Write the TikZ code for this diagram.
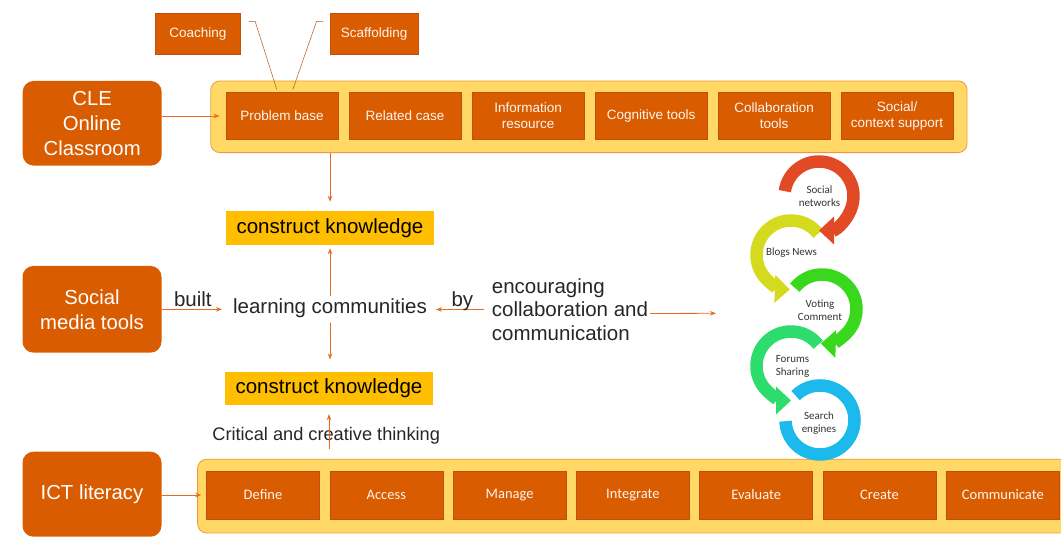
\documentclass[tikz,border=0pt]{standalone}
\usepackage{fontspec}
\setmainfont{Liberation Sans}
\newfontfamily\calibri{Carlito}
\usepackage{tikz}
\usetikzlibrary{positioning,arrows.meta,calc}
\definecolor{rust}{HTML}{DA5C00}
\definecolor{rustedge}{HTML}{BF5010}
\definecolor{sand}{HTML}{FFD865}
\definecolor{sandedge}{HTML}{EE9A3C}
\definecolor{amber}{HTML}{FFBF00}
\definecolor{wire}{HTML}{E46C1E}
\definecolor{ringred}{HTML}{E24A26}
\definecolor{ringyellow}{HTML}{D4DB1E}
\definecolor{ringgreen}{HTML}{3AD81C}
\definecolor{ringmint}{HTML}{2EDC6E}
\definecolor{ringcyan}{HTML}{1CB9EC}

\begin{document}
\begin{tikzpicture}[x=1pt, y=1pt,
  head/.style={rounded corners=11pt, fill=rust, text=white, minimum width=139pt,
               align=center, font=\fontsize{20.3}{25}\selectfont},
  tool/.style={fill=rust, draw=rustedge, line width=0.5pt, text=white!94!rust,
               minimum width=112.5pt, minimum height=47pt, inner sep=1pt,
               align=center, font=\fontsize{13.5}{16}\selectfont},
  skill/.style={tool, minimum width=113pt, minimum height=48pt,
                font=\calibri\fontsize{14.5}{16}\selectfont},
  tray/.style={rounded corners=9pt, fill=sand, draw=sandedge, line width=0.8pt},
  goal/.style={fill=amber, minimum width=208pt, inner sep=0pt,
               font=\fontsize{20.5}{22}\selectfont},
  plain/.style={inner sep=2pt, text=black!85, font=\fontsize{20.5}{23.5}\selectfont},
  wordtag/.style={plain, anchor=base, inner sep=0pt, yshift=2.5pt},
  arrow/.style={-{Stealth[length=6pt,width=4.5pt]}, wire, line width=0.8pt},
  callout/.style={draw=wire!80!black, line width=0.5pt},
  ring/.style={line width=12.5pt, -{Triangle[length=15pt,width=27pt]}},
  ringtext/.style={align=center, text=black!80, font=\calibri\fontsize{11}{13}\selectfont},
  node distance=10pt
]
\useasboundingbox (0,0) rectangle (1061,540);

% --- CLE row ---
\node[head, minimum height=84.7pt] (cle) at (92.2,416.7) {CLE\\Online\\Classroom};
\node[tray, minimum width=756.3pt, minimum height=71.7pt] (cletray) at (588.9,423.2) {};
\node[tool] (pbase) at (282.1,424) {Problem base};
\node[tool, right=of pbase] (rcase) {Related case};
\node[tool, right=of rcase] (info) {Information\\resource};
\node[tool, right=of info] (cogn) {Cognitive tools};
\node[tool, right=of cogn] (collab) {Collaboration\\tools};
\node[tool, right=of collab] (context) {Social/\\context support};
\node[tool, minimum width=85.7pt, minimum height=40.7pt] (coach) at (197.8,506.3) {Coaching};
\node[tool, minimum width=88.3pt, minimum height=40.7pt] (scaff) at (374.2,506.3) {Scaffolding};
\draw[arrow, shorten >=6pt] (cle.east |- pbase) -- (pbase.west);
\draw[callout] ($(coach.north east)+(7.6,-8.4)$) -- ++(6.7,0) -- ($(pbase.north)+(-5.3,2.7)$);
\draw[callout] ($(scaff.north west)+(-6.7,-8.4)$) -- ++(-6.6,0) -- ($(pbase.north)+(10.7,2.7)$);

% --- learning communities ---
\node[goal, minimum height=34pt] (knowup) at (330,312) {construct knowledge};
\node[plain] (learn) at (330,232) {learning communities};
\node[goal, minimum height=33.3pt] (knowdown) at (329,151.7) {construct knowledge};
\node[head, minimum height=86.7pt] (social) at (92,230.7) {Social\\media tools};
\node[plain, anchor=west, align=left] (encourage) at (489.7,230.5)
  {encouraging\\collaboration and\\communication};
\coordinate (hub) at (716,226.7);
\draw[arrow, shorten >=9pt] (cletray.south -| knowup) -- (knowup.north);
\draw[arrow, shorten >=3pt] (learn.north) -- (knowup.south);
\draw[arrow, shorten <=3pt, shorten >=12pt] (learn.south) -- (learn.south |- knowdown.north);
\draw[arrow, shorten >=9pt] (social.east) -- node[wordtag, pos=.45] {built} (social.east -| learn.west);
\draw[arrow, shorten <=6pt, shorten >=7pt] (encourage.west) -- node[wordtag, pos=.45] {by} (encourage.west -| learn.east);
\draw[arrow] ([yshift=-4pt]encourage.east) -- (hub);

% --- ICT row ---
\node[head, minimum height=85pt] (ict) at (92,45.8) {ICT literacy};
\node[tray, minimum width=874.4pt, minimum height=73.7pt] (ictray) at (634.8,43.9) {};
\node[skill] (define) at (263,45) {Define};
\node[skill, right=9.8pt of define] (access) {Access};
\node[skill, right=9.8pt of access] (manage) {Manage};
\node[skill, right=9.8pt of manage] (integrate) {Integrate};
\node[skill, right=9.8pt of integrate] (evaluate) {Evaluate};
\node[skill, right=9.8pt of evaluate] (create) {Create};
\node[skill, right=9.8pt of create] (communicate) {Communicate};
\draw[arrow, shorten >=5pt] (ict.east |- define) -- (define.west);
\node[plain, font=\fontsize{18.2}{20}\selectfont] (critical) at (326.2,104.5) {Critical and creative thinking};
\draw[arrow, shorten <=10pt, shorten >=9pt] (knowdown.south |- ictray.north) -- (knowdown.south);

% --- tool rings, drawn from the bottom up ---
\draw[ring, -, ringcyan] ([shift={(135:34.5pt)}]820,120) arc[start angle=135, end angle=-178, radius=34.5pt];
\draw[ring, ringmint] ([shift={(38:34.5pt)}]791,174) arc[start angle=38, end angle=270, radius=34.5pt];
\draw[ring, ringgreen] ([shift={(142:34.5pt)}]822,231) arc[start angle=142, end angle=-92, radius=34.5pt];
\draw[ring, ringyellow] ([shift={(38:34.5pt)}]791,285) arc[start angle=38, end angle=268, radius=34.5pt];
\draw[ring, ringred] ([shift={(172:34.5pt)}]819,344) arc[start angle=172, end angle=-90, radius=34.5pt];
\node[ringtext] (snet) at (819.5,343.5) {Social\\networks};
\node[ringtext] (blogs) at (791.5,287) {Blogs News};
\node[ringtext] (vote) at (820,230) {Voting\\Comment};
\node[ringtext] (forum) at (792.5,173.3) {Forums\\Sharing};
\node[ringtext] (search) at (819,117.3) {Search\\engines};

\end{tikzpicture}
\end{document}
